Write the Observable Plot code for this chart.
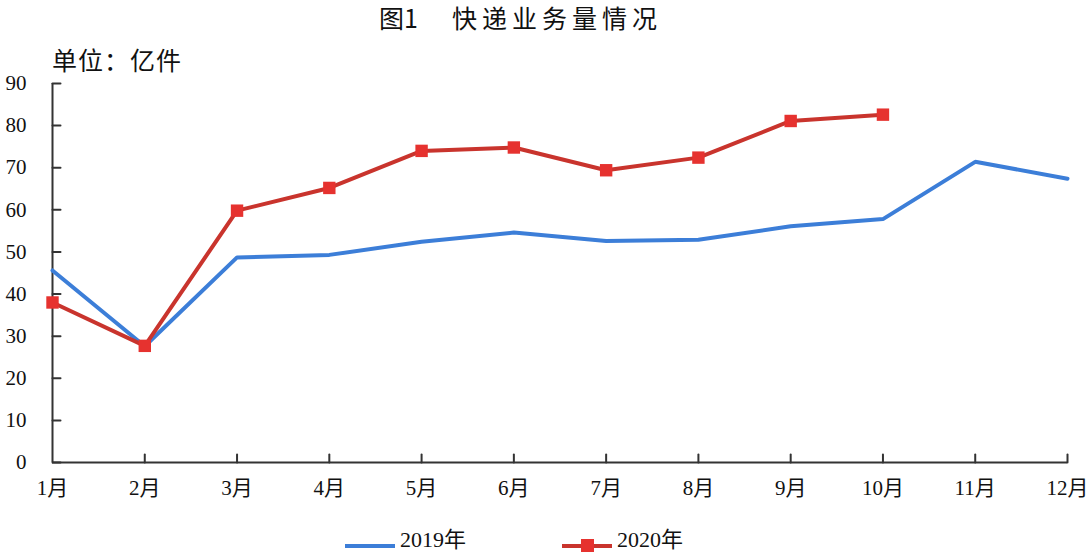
<!DOCTYPE html>
<html>
<head>
<meta charset="utf-8">
<script src="https://cdn.jsdelivr.net/npm/d3@7"></script>
<script src="https://cdn.jsdelivr.net/npm/@observablehq/plot@0.6"></script>
<style>
  html, body { margin: 0; padding: 0; background: #fff; }
  #wrap { position: relative; width: 1090px; height: 556px; overflow: hidden; background: #fff; }
  #wrap svg { position: absolute; left: 0; top: 0; }
  .title { position: absolute; left: 379px; top: 2px; height: 30px; font: 25px/30px "Noto Sans CJK SC", sans-serif; white-space: pre; color: #111; }
  .title .b { letter-spacing: 5px; margin-left: 34px; }
  .unit { position: absolute; left: 52px; top: 44px; font: 25px/30px "Noto Sans CJK SC", sans-serif; letter-spacing: 1px; color: #111; }
  .legend { position: absolute; top: 526px; left: 0; width: 1090px; height: 30px; font: 22px/28px "Liberation Serif", "Noto Sans CJK SC", serif; color: #111; }
  .legend .item { position: absolute; top: 0; white-space: nowrap; }
  .legend .sw { position: absolute; top: 18px; height: 4px; width: 50px; }
  .legend .mk { position: absolute; top: 13px; width: 13px; height: 13px; }
</style>
</head>
<body>
<div id="wrap"></div>
<script>
const months = [1, 2, 3, 4, 5, 6, 7, 8, 9, 10, 11, 12];
const monthLabels = ["1月", "2月", "3月", "4月", "5月", "6月", "7月", "8月", "9月", "10月", "11月", "12月"];
const values2019 = [45.6, 27.6, 48.7, 49.3, 52.4, 54.6, 52.6, 52.9, 56.1, 57.8, 71.4, 67.4];
const values2020 = [38.0, 27.7, 59.8, 65.2, 74.0, 74.8, 69.4, 72.4, 81.1, 82.6];
const yTicks = [0, 10, 20, 30, 40, 50, 60, 70, 80, 90];
const seriesNames = ["2019年", "2020年"];
const titleParts = ["图1", "快递业务量情况"];
const unitLabel = "单位：亿件";

const colors = { s2019: "#3c7ed8", s2020: "#c9342d", marker: "#e6322f", axis: "#333" };

const d2019 = values2019.map((v, i) => ({ month: months[i], value: v }));
const d2020 = values2020.map((v, i) => ({ month: months[i], value: v }));

const tickShape = { draw(context, l) { context.moveTo(0, 0); context.lineTo(0, -l); } };

const chart = Plot.plot({
  width: 1090,
  height: 556,
  marginTop: 83,
  marginBottom: 94,
  marginLeft: 52,
  marginRight: 23,
  style: { fontFamily: '"Liberation Serif", "Noto Sans CJK SC", serif', fontSize: "21px", color: "#111", background: "transparent" },
  x: { type: "linear", domain: [1, 12], label: null },
  y: { domain: [0, 90], label: null },
  marks: [
    Plot.axisY({ ticks: yTicks, tickSize: 0, tickPadding: 26, label: null, tickFormat: d => String(d) }),
    Plot.axisX({ ticks: months, tickSize: 0, tickPadding: 18, label: null, tickFormat: d => monthLabels[months.indexOf(d)] }),
    Plot.ruleX([1], { y1: 0, y2: 90, stroke: colors.axis, strokeWidth: 2 }),
    Plot.ruleY([0], { x1: 1, x2: 12, stroke: colors.axis, strokeWidth: 2 }),
    Plot.vector(yTicks, { x: 1, y: d => d, length: 8, rotate: 90, anchor: "start", shape: tickShape, stroke: colors.axis, strokeWidth: 2 }),
    Plot.vector(months.slice(1), { x: d => d, y: 0, length: 8, rotate: 0, anchor: "start", shape: tickShape, stroke: colors.axis, strokeWidth: 2 }),
    Plot.line(d2019, { x: "month", y: "value", stroke: colors.s2019, strokeWidth: 4, strokeLinejoin: "miter" }),
    Plot.line(d2020, { x: "month", y: "value", stroke: colors.s2020, strokeWidth: 4, strokeLinejoin: "miter" }),
    Plot.dot(d2020, { x: "month", y: "value", symbol: "square", r: 7, fill: colors.marker, stroke: "none" })
  ]
});

const wrap = document.getElementById("wrap");
wrap.appendChild(chart);

const t = document.createElement("div");
t.className = "title";
t.innerHTML = `<span class="a">${titleParts[0]}</span><span class="b">${titleParts[1]}</span>`;
wrap.appendChild(t);

const u = document.createElement("div");
u.className = "unit";
u.textContent = unitLabel;
wrap.appendChild(u);

const legend = document.createElement("div");
legend.className = "legend";
legend.innerHTML =
  `<div class="sw" style="left:345px;background:${colors.s2019}"></div>` +
  `<div class="item" style="left:400px">${seriesNames[0]}</div>` +
  `<div class="sw" style="left:562px;background:${colors.s2020}"></div>` +
  `<div class="mk" style="left:581px;background:${colors.marker}"></div>` +
  `<div class="item" style="left:617px">${seriesNames[1]}</div>`;
wrap.appendChild(legend);
</script>
</body>
</html>
